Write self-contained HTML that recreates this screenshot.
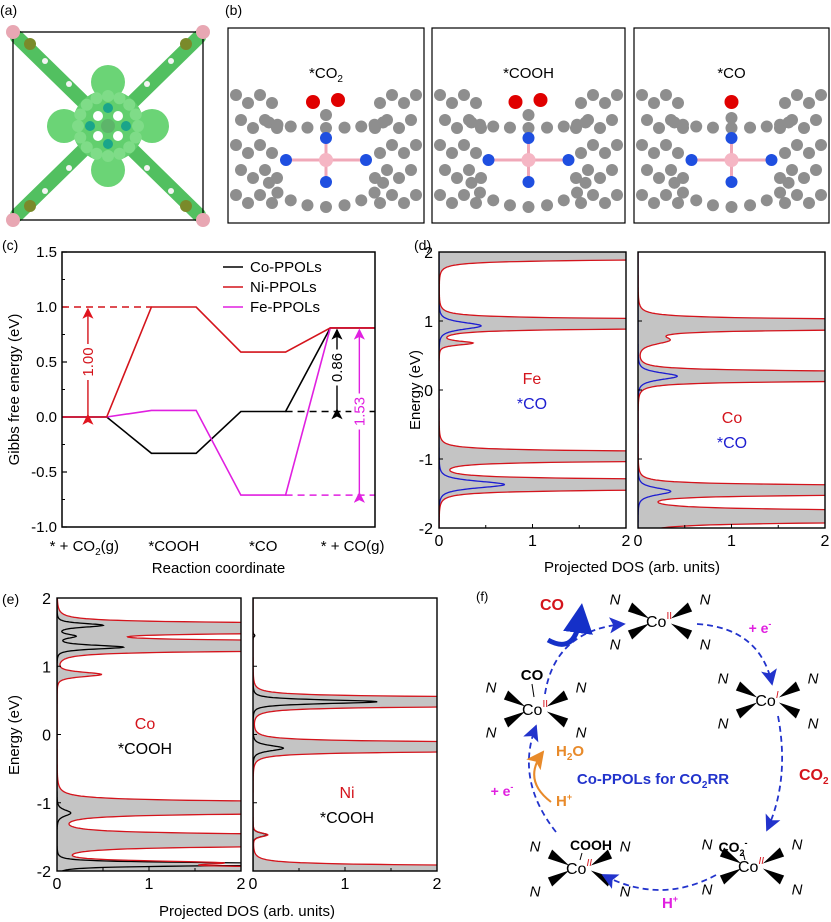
<!DOCTYPE html>
<html><head><meta charset="utf-8"><style>
html,body{margin:0;padding:0;background:#fff;}
svg{display:block;font-family:"Liberation Sans",Arial,sans-serif;}
</style></head><body>
<svg id="fig" width="831" height="922" viewBox="0 0 831 922" xmlns="http://www.w3.org/2000/svg">
<defs>
<marker id="arR" markerWidth="8" markerHeight="8" refX="7" refY="4" orient="auto"><path d="M0,0 L8,4 L0,8 L2,4z" fill="#e0141e"/></marker>
<marker id="arK" markerWidth="8" markerHeight="8" refX="7" refY="4" orient="auto"><path d="M0,0 L8,4 L0,8 L2,4z" fill="#000"/></marker>
<marker id="arM" markerWidth="8" markerHeight="8" refX="7" refY="4" orient="auto"><path d="M0,0 L8,4 L0,8 L2,4z" fill="#e020e0"/></marker>
<marker id="arB" markerWidth="9" markerHeight="9" refX="8" refY="4.5" orient="auto"><path d="M0,0 L9,4.5 L0,9 L2,4.5z" fill="#2233cc"/></marker>
<marker id="arO" markerWidth="9" markerHeight="9" refX="8" refY="4.5" orient="auto"><path d="M0,0 L9,4.5 L0,9 L2,4.5z" fill="#e88a2a"/></marker>
<marker id="arBig" markerWidth="6" markerHeight="6" refX="3" refY="3" orient="auto"><path d="M0,0 L6,3 L0,6z" fill="#1530c8"/></marker>
</defs>
<g id="root"></g>
</svg>
<script>
// ===== Panel (c) data =====
const stepLabels = ["* + CO\u2082(g)", "*COOH", "*CO", "* + CO(g)"];
const coValues = [0, -0.33, 0.05, 0.81];
const niValues = [0, 1.00, 0.59, 0.81];
const feValues = [0, 0.06, -0.71, 0.81];
const barrierLabels = ["1.00", "0.86", "1.53"];
const cTicks = [1.5, 1.0, 0.5, 0.0, -0.5, -1.0];
const cTickLabels = ["1.5", "1.0", "0.5", "0.0", "-0.5", "-1.0"];
const seriesNames = ["Co-PPOLs", "Ni-PPOLs", "Fe-PPOLs"];

// ===== DOS data (peak centers eV, heights, widths) =====
const dosTicks = [2, 1, 0, -1, -2];
const dosXTicks = [0, 1, 2];
const feRedE = [1.96, 0.96, 0.68, -0.96, -1.37];
const feRedH = [150, 150, 0.35, 150, 150];
const feRedW = [0.028, 0.028, 0.05, 0.028, 0.03];
const feBlueE = [0.93, -1.37];
const feBlueH = [0.45, 0.7];
const feBlueW = [0.09, 0.09];
const coCoRedE = [0.95, 0.72, 0.2, -1.45, -1.83];
const coCoRedH = [150, 0.3, 150, 150, 150];
const coCoRedW = [0.03, 0.1, 0.028, 0.028, 0.035];
const coCoBlueE = [0.2, -1.47];
const coCoBlueH = [0.42, 0.35];
const coCoBlueW = [0.09, 0.09];
const coOHRedE = [1.56, 1.3, 0.88, -1.07, -1.55, -1.88, -2.02];
const coOHRedH = [150, 150, 0.48, 150, 150, 1.5, 150];
const coOHRedW = [0.03, 0.03, 0.06, 0.035, 0.035, 0.05, 0.03];
const coOHBlackE = [1.6, 1.28, 1.44, -1.15, -1.9];
const coOHBlackH = [0.5, 0.72, 0.2, 0.15, 3];
const coOHBlackW = [0.05, 0.05, 0.05, 0.08, 0.04];
const niRedE = [0.48, -0.18, -1.47, -1.99];
const niRedH = [150, 150, 0.16, 150];
const niRedW = [0.028, 0.028, 0.05, 0.028];
const niBlackE = [0.48, -0.2, -1.47, 1.45];
const niBlackH = [1.35, 0.33, 0.15, 0.02];
const niBlackW = [0.05, 0.07, 0.05, 0.03];

const NS = "http://www.w3.org/2000/svg";
const root = document.getElementById("root");
function mk(tag, attrs, parent) {
  const e = document.createElementNS(NS, tag);
  for (const k in attrs) e.setAttribute(k, attrs[k]);
  (parent || root).appendChild(e);
  return e;
}
function txt(x, y, s, attrs, parent) {
  const t = mk("text", Object.assign({x: x, y: y}, attrs || {}), parent);
  t.textContent = s;
  return t;
}

// ===== Panel (a) =====
(function () {
  const g = mk("g", {});
  
  
  const lab = txt(0, 15, "(a)", {"font-size": 14});
  
  
  const cx = 108, cy = 126;
  [[17, 37], [199, 37], [17, 215], [199, 215]].forEach(p => {
    mk("line", {x1: p[0], y1: p[1], x2: cx, y2: cy, stroke: "#52c060", "stroke-width": 14, "stroke-linecap": "round"}, g);
  });
  mk("circle", {cx: cx, cy: cy, r: 36, fill: "#62cf6e"}, g);
  [[0, -44], [0, 44], [-44, 0], [44, 0]].forEach(d => {
    mk("circle", {cx: cx + d[0], cy: cy + d[1], r: 17, fill: "#6bd476"}, g);
  });
  for (let k = 0; k < 16; k++) {
    const a = k * Math.PI / 8;
    mk("circle", {cx: cx + 30 * Math.cos(a), cy: cy + 30 * Math.sin(a), r: 6, fill: "#7fdc88"}, g);
  }
  [[0, -18], [0, 18], [-18, 0], [18, 0]].forEach(d => {
    mk("circle", {cx: cx + d[0], cy: cy + d[1], r: 5, fill: "#1aa58a"}, g);
  });
  mk("circle", {cx: cx, cy: cy, r: 7, fill: "#5db56a"}, g);
  [[-10, -10], [10, -10], [-10, 10], [10, 10]].forEach(d => {
    mk("circle", {cx: cx + d[0], cy: cy + d[1], r: 5, fill: "#fff"}, g);
  });
  [[45, 61], [69, 84]].forEach(p => {
    [[1, 1], [-1, 1], [1, -1], [-1, -1]].forEach(s => {
      mk("circle", {cx: cx + s[0] * (cx - p[0]) , cy: cy + s[1] * (cy - p[1]) , r: 3, fill: "#f4f4f4"}, g);
    });
  });
  [[30, 44], [186, 44], [30, 206], [186, 206]].forEach(p => {
    mk("circle", {cx: p[0], cy: p[1], r: 6, fill: "#7a8a2a"}, g);
  });
  mk("rect", {x: 13, y: 32, width: 190, height: 188, fill: "none", stroke: "#000", "stroke-width": 1.3}, g);
  [[13, 32], [203, 32], [13, 220], [203, 220]].forEach(p => {
    mk("circle", {cx: p[0], cy: p[1], r: 7, fill: "#e8a7b3"}, g);
  });
})();

// ===== Panel (b) =====
(function () {
  const lab = txt(225, 15, "(b)", {"font-size": 14});
  
  
  const boxes = [[228, 196, "*CO2"], [432, 193, "*COOH"], [634, 195, "*CO"]];
  boxes.forEach((b, i) => {
    const g = mk("g", {});
    
    
    const x0 = b[0], w = b[1], y0 = 28, h = 195, cx = x0 + w / 2, cy = 160;
    for (let k = 0; k < 40; k++) {
      const col = k % 8, row = Math.floor(k / 8);
      const side = col < 4 ? 0 : 1;
      const xx = side === 0 ? x0 + 8 + col * 12 + (row % 2) * 5 : x0 + w - 8 - (col - 4) * 12 - (row % 2) * 5;
      const yy = 95 + row * 25 + (col % 2) * 8;
      mk("circle", {cx: xx, cy: yy, r: 6, fill: "#8e8e8e"}, g);
    }
    for (let k = 0; k < 9; k++) {
      const a = Math.PI * (0.1 + 0.8 * k / 8);
      mk("circle", {cx: cx - 60 * Math.cos(a), cy: cy + 12 + 35 * Math.sin(a), r: 6, fill: "#8e8e8e"}, g);
      mk("circle", {cx: cx - 60 * Math.cos(a), cy: cy - 40 + 8 * Math.sin(a), r: 6, fill: "#8e8e8e"}, g);
    }
    mk("line", {x1: cx - 40, y1: cy, x2: cx + 40, y2: cy, stroke: "#f0a8b8", "stroke-width": 3}, g);
    mk("line", {x1: cx, y1: cy - 25, x2: cx, y2: cy + 25, stroke: "#f0a8b8", "stroke-width": 3}, g);
    [[-40, 0], [40, 0], [0, -22], [0, 22]].forEach(d => mk("circle", {cx: cx + d[0], cy: cy + d[1], r: 6, fill: "#1f4fe0"}, g));
    mk("circle", {cx: cx, cy: cy, r: 7, fill: "#f5b6c4"}, g);
    if (i < 2) {
      mk("circle", {cx: cx - 13, cy: cy - 58, r: 7, fill: "#e00000"}, g);
      mk("circle", {cx: cx + 12, cy: cy - 60, r: 7, fill: "#e00000"}, g);
      mk("circle", {cx: cx, cy: cy - 45, r: 6, fill: "#8e8e8e"}, g);
    } else {
      mk("circle", {cx: cx, cy: cy - 58, r: 7, fill: "#e00000"}, g);
      mk("circle", {cx: cx, cy: cy - 42, r: 6, fill: "#8e8e8e"}, g);
    }
    mk("rect", {x: x0, y: y0, width: w, height: h, fill: "none", stroke: "#000", "stroke-width": 1.2}, g);
    const t = txt(cx, 78, "", {"font-size": 15, "text-anchor": "middle"}, g);
    if (b[2] === "*CO2") {
      t.textContent = "*CO";
      const s = mk("tspan", {"font-size": 10, dy: 4}, t); s.textContent = "2";
    } else t.textContent = b[2];
    
    
  });
})();

// ===== Panel (c) =====
(function () {
  const L = 62, R = 375, T = 252, B = 527;
  const xs = v => L + v * (R - L) / 7;
  const ys = v => T + (1.5 - v) * (B - T) / 2.5;
  const g = mk("g", {});
  
  
  const lab = txt(2, 250, "(c)", {"font-size": 14});
  
  
  cTicks.forEach((v, i) => {
    mk("line", {x1: L, y1: ys(v), x2: L + 5, y2: ys(v), stroke: "#000", "stroke-width": 1.2}, g);
    const t = txt(L - 5, ys(v) + 5, cTickLabels[i], {"font-size": 15, "text-anchor": "end"}, g);
    
    
  });
  for (let v = -0.75; v < 1.5; v += 0.5) mk("line", {x1: L, y1: ys(v), x2: L + 3, y2: ys(v), stroke: "#000"}, g);
  const yt = txt(0, 0, "Gibbs free energy (eV)", {"font-size": 15, "text-anchor": "middle", transform: "translate(19," + ((T + B) / 2) + ") rotate(-90)"}, g);
  
  
  stepLabels.forEach((s, i) => {
    const t = txt(xs(2 * i + 0.5), 551, "", {"font-size": 15, "text-anchor": "middle"}, g);
    if (i === 0) {
      t.textContent = "* + CO";
      const sb = mk("tspan", {"font-size": 10, dy: 4}, t); sb.textContent = "2";
      const r = mk("tspan", {dy: -4}, t); r.textContent = "(g)";
    } else t.textContent = s;
    
    
  });
  const xt = txt((L + R) / 2, 573, "Reaction coordinate", {"font-size": 15, "text-anchor": "middle"}, g);
  
  
  function draw(vals, color, name) {
    let d = "";
    vals.forEach((v, i) => {
      d += (i === 0 ? "M" : "L") + xs(2 * i) + "," + ys(v) + " L" + xs(2 * i + 1) + "," + ys(v) + " ";
    });
    const p = mk("path", {d: d, fill: "none", stroke: color, "stroke-width": 1.6}, g);
    
    
  }
  draw(coValues, "#000", "series-co-ppols");
  draw(feValues, "#e020e0", "series-fe-ppols");
  draw(niValues, "#d4141c", "series-ni-ppols");
  const maxNi = Math.max(...niValues);
  mk("line", {x1: xs(0), y1: ys(maxNi), x2: xs(2), y2: ys(maxNi), stroke: "#d4141c", "stroke-width": 1.5, "stroke-dasharray": "7,5"}, g);
  mk("line", {x1: xs(0.58), y1: ys(niValues[0]) - 2, x2: xs(0.58), y2: ys(maxNi) + 2, stroke: "#d4141c", "stroke-width": 1.4, "marker-end": "url(#arR)", "marker-start": "url(#arR)"}, g);
  mk("line", {x1: xs(5), y1: ys(coValues[2]), x2: xs(7), y2: ys(coValues[2]), stroke: "#000", "stroke-width": 1.5, "stroke-dasharray": "7,5"}, g);
  mk("line", {x1: xs(6.15), y1: ys(coValues[2]) - 2, x2: xs(6.15), y2: ys(coValues[3]) + 2, stroke: "#000", "stroke-width": 1.4, "marker-end": "url(#arK)", "marker-start": "url(#arK)"}, g);
  mk("line", {x1: xs(5), y1: ys(feValues[2]), x2: xs(7), y2: ys(feValues[2]), stroke: "#e020e0", "stroke-width": 1.5, "stroke-dasharray": "7,5"}, g);
  mk("line", {x1: xs(6.65), y1: ys(feValues[2]) - 2, x2: xs(6.65), y2: ys(feValues[3]) + 2, stroke: "#e020e0", "stroke-width": 1.4, "marker-end": "url(#arM)", "marker-start": "url(#arM)"}, g);
  function vlab(x, y, s, c, name) {
    mk("rect", {x: x - 8, y: y - 18, width: 16, height: 36, fill: "#fff"}, g);
    const t = txt(0, 0, s, {"font-size": 15, fill: c, "text-anchor": "middle", transform: "translate(" + (x + 5) + "," + y + ") rotate(-90)"}, g);
    
    
  }
  vlab(xs(0.58), ys(0.5), barrierLabels[0], "#d4141c", "ni-barrier-label");
  vlab(xs(6.15), ys(0.45), barrierLabels[1], "#000", "co-barrier-label");
  vlab(xs(6.65), ys(0.05), barrierLabels[2], "#e020e0", "fe-barrier-label");
  const cols = ["#000", "#d4141c", "#e020e0"];
  seriesNames.forEach((n, i) => {
    const y = 267 + i * 20;
    mk("line", {x1: 223, y1: y, x2: 243, y2: y, stroke: cols[i], "stroke-width": 1.6}, g);
    const t = txt(250, y + 5, n, {"font-size": 15}, g);
    
    
  });
  mk("rect", {x: L, y: T, width: R - L, height: B - T, fill: "none", stroke: "#000", "stroke-width": 1.5}, g);
})();

// ===== DOS panels =====
function dosVal(E, es, hs, ws) {
  let s = 0;
  for (let i = 0; i < es.length; i++) {
    const q = 1 + (E - es[i]) * (E - es[i]) / (ws[i] * ws[i]);
    s += hs[i] / (q * q);
  }
  return s;
}
let clipN = 0;
function dosPanel(L, R, T, B, fill, lines, name, showYLabels) {
  const g = mk("g", {});
  
  
  const xs = v => L + v * (R - L) / 2;
  const ys = v => T + (2 - v) * (B - T) / 4;
  const id = "clip" + (clipN++);
  const cp = mk("clipPath", {id: id}, g);
  mk("rect", {x: L, y: T, width: R - L, height: B - T}, cp);
  const cg = mk("g", {"clip-path": "url(#" + id + ")"}, g);
  function pathFor(sp, closed) {
    let d = closed ? "M" + xs(0) + "," + ys(2.05) + " " : "";
    for (let k = 0; k <= 1000; k++) {
      const E = 2.05 - k * 4.1 / 1000;
      const v = Math.min(dosVal(E, sp[0], sp[1], sp[2]), 2.2);
      d += ((!closed && k === 0) ? "M" : "L") + xs(v).toFixed(1) + "," + ys(E).toFixed(1) + " ";
    }
    if (closed) d += "L" + xs(0) + "," + ys(-2.05) + " Z";
    return d;
  }
  mk("path", {d: pathFor(fill, true), fill: "#c4c4c4", stroke: "none"}, cg);
  lines.forEach(l => {
    const p = mk("path", {d: pathFor(l.sp, false), fill: "none", stroke: l.c, "stroke-width": 1.3}, cg);
    
    
  });
  mk("rect", {x: L, y: T, width: R - L, height: B - T, fill: "none", stroke: "#000", "stroke-width": 1.4}, g);
  dosTicks.forEach(v => {
    mk("line", {x1: L, y1: ys(v), x2: L + 4, y2: ys(v), stroke: "#000"}, g);
    if (showYLabels) {
      const t = txt(L - 6, ys(v) + 6, String(v), {"font-size": 16, "text-anchor": "end"}, g);
      
      
    }
  });
  dosXTicks.forEach(v => {
    mk("line", {x1: xs(v), y1: B, x2: xs(v), y2: B - 4, stroke: "#000"}, g);
    const t = txt(xs(v), B + 18, String(v), {"font-size": 16, "text-anchor": "middle"}, g);
    
    
  });
  [0.5, 1.5].forEach(v => mk("line", {x1: xs(v), y1: B, x2: xs(v), y2: B - 3, stroke: "#000"}, g));
  return g;
}
function label2(x, y, a, b, ca, cb, name) {
  const t1 = txt(x, y, a, {"font-size": 16, fill: ca, "text-anchor": "middle"});
  
  
  const t2 = txt(x, y + 25, b, {"font-size": 16, fill: cb, "text-anchor": "middle"});
  
  
}
{
  const l = txt(414, 250, "(d)", {"font-size": 14});
  
  
  const fe = [feRedE, feRedH, feRedW], feb = [feBlueE, feBlueH, feBlueW];
  dosPanel(439, 626, 252, 528, fe, [{sp: feb, c: "#1d1dd0", n: "fe-co-blue-dos"}, {sp: fe, c: "#d4141c", n: "fe-red-dos"}], "dos-fe-co", true);
  const co = [coCoRedE, coCoRedH, coCoRedW], cob = [coCoBlueE, coCoBlueH, coCoBlueW];
  dosPanel(638, 825, 252, 528, co, [{sp: cob, c: "#1d1dd0", n: "co-co-blue-dos"}, {sp: co, c: "#d4141c", n: "co-red-dos"}], "dos-co-co", false);
  label2(532, 384, "Fe", "*CO", "#d4141c", "#1d1dd0", "fe-co-label");
  label2(732, 423, "Co", "*CO", "#d4141c", "#1d1dd0", "co-co-label");
  const yt = txt(0, 0, "Energy (eV)", {"font-size": 15, "text-anchor": "middle", transform: "translate(420,390) rotate(-90)"});
  
  
  const xt = txt(632, 572, "Projected DOS (arb. units)", {"font-size": 15, "text-anchor": "middle"});
  
  
}
{
  const l = txt(2, 604, "(e)", {"font-size": 14});
  
  
  const co = [coOHRedE, coOHRedH, coOHRedW], cok = [coOHBlackE, coOHBlackH, coOHBlackW];
  dosPanel(57, 241, 598, 871, co, [{sp: cok, c: "#000", n: "co-cooh-black-dos"}, {sp: co, c: "#d4141c", n: "co-cooh-red-dos"}], "dos-co-cooh", true);
  const ni = [niRedE, niRedH, niRedW], nik = [niBlackE, niBlackH, niBlackW];
  dosPanel(253, 437, 598, 871, ni, [{sp: nik, c: "#000", n: "ni-cooh-black-dos"}, {sp: ni, c: "#d4141c", n: "ni-cooh-red-dos"}], "dos-ni-cooh", false);
  label2(145, 729, "Co", "*COOH", "#d4141c", "#000", "co-cooh-label");
  label2(347, 798, "Ni", "*COOH", "#d4141c", "#000", "ni-cooh-label");
  const yt = txt(0, 0, "Energy (eV)", {"font-size": 15, "text-anchor": "middle", transform: "translate(19,735) rotate(-90)"});
  
  
  const xt = txt(247, 916, "Projected DOS (arb. units)", {"font-size": 15, "text-anchor": "middle"});
  
  
}

// ===== Panel (f) =====
(function () {
  const g = mk("g", {});
  
  
  const l = txt(476, 601, "(f)", {"font-size": 13});
  
  
  function wedge(cx, cy, dx, dy) {
    const len = Math.hypot(dx, dy), ux = dx / len, uy = dy / len;
    const sx = cx + ux * 12, sy = cy + uy * 6;
    const ex = cx + dx, ey = cy + dy;
    mk("polygon", {points: sx + "," + sy + " " + (ex - uy * 5) + "," + (ey + ux * 5) + " " + (ex + uy * 5) + "," + (ey - ux * 5), fill: "#000"}, g);
  }
  function complex(cx, cy, ox, italic, name) {
    const dirs = [[-30, -14], [30, -14], [-30, 14], [30, 14]];
    dirs.forEach(d => wedge(cx, cy, d[0], d[1]));
    const t = txt(cx - 1, cy + 6, "Co", {"font-size": 16, "text-anchor": "middle"}, g);
    const s = mk("tspan", {"font-size": 10, dy: -8, fill: "#d4141c", "font-style": italic ? "italic" : "normal"}, t);
    s.textContent = ox;
    
    
    dirs.forEach(d => {
      txt(cx + d[0] * 1.5, cy + d[1] * 1.6 + 6, "N", {"font-size": 15, "text-anchor": "middle", "font-style": "italic"}, g);
    });
  }
  complex(660, 621, "II", false, "co-ii-complex");
  complex(768, 700, "I", true, "co-i-complex");
  complex(752, 866, "II", true, "co-ii-co2-complex");
  complex(580, 868, "II", true, "co-ii-cooh-complex");
  complex(536, 709, "II", false, "co-ii-co-complex");
  txt(532, 680, "CO", {"font-size": 15, "font-weight": "bold", "text-anchor": "middle"}, g);
  mk("line", {x1: 532, y1: 684, x2: 534, y2: 697, stroke: "#000"}, g);
  txt(591, 850, "COOH", {"font-size": 14, "font-weight": "bold", "text-anchor": "middle"}, g);
  mk("line", {x1: 582, y1: 853, x2: 580, y2: 860, stroke: "#000"}, g);
  const c2 = txt(733, 852, "CO", {"font-size": 14, "font-weight": "bold", "text-anchor": "middle"}, g);
  const c2s = mk("tspan", {"font-size": 9, dy: 4}, c2); c2s.textContent = "2";
  const c2m = mk("tspan", {"font-size": 9, dy: -10}, c2); c2m.textContent = "-";
  mk("line", {x1: 743, y1: 853, x2: 745, y2: 860, stroke: "#000"}, g);
  const arcs = [
    "M545,694 Q555,630 624,624",
    "M697,624 Q760,628 772,684",
    "M778,716 Q790,780 767,830",
    "M716,875 Q660,905 603,875",
    "M556,832 Q515,780 536,726"
  ];
  arcs.forEach((d, i) => {
    const p = mk("path", {d: d, fill: "none", stroke: "#2233cc", "stroke-width": 1.8, "stroke-dasharray": "6,4", "marker-end": "url(#arB)"}, g);
    
    
  });
  mk("path", {d: "M548,640 Q575,655 580,618", fill: "none", stroke: "#1530c8", "stroke-width": 5, "marker-end": "url(#arBig)"}, g);
  txt(552, 610, "CO", {"font-size": 16, "font-weight": "bold", fill: "#d4141c", "text-anchor": "middle"}, g);
  const e1 = txt(760, 633, "+ e", {"font-size": 14, "font-weight": "bold", fill: "#e020e0", "text-anchor": "middle"}, g);
  const e1s = mk("tspan", {"font-size": 9, dy: -6}, e1); e1s.textContent = "-";
  const co2 = txt(799, 780, "CO", {"font-size": 16, "font-weight": "bold", fill: "#d4141c"}, g);
  const co2s = mk("tspan", {"font-size": 10, dy: 4}, co2); co2s.textContent = "2";
  const hp = txt(670, 908, "H", {"font-size": 15, "font-weight": "bold", fill: "#e020e0", "text-anchor": "middle"}, g);
  const hps = mk("tspan", {"font-size": 9, dy: -6}, hp); hps.textContent = "+";
  const e2 = txt(502, 796, "+ e", {"font-size": 14, "font-weight": "bold", fill: "#e020e0", "text-anchor": "middle"}, g);
  const e2s = mk("tspan", {"font-size": 9, dy: -6}, e2); e2s.textContent = "-";
  const h2o = txt(556, 756, "H", {"font-size": 15, "font-weight": "bold", fill: "#e88a2a"}, g);
  const h2os = mk("tspan", {"font-size": 10, dy: 4}, h2o); h2os.textContent = "2";
  const h2oo = mk("tspan", {dy: -4}, h2o); h2oo.textContent = "O";
  const hp2 = txt(556, 806, "H", {"font-size": 15, "font-weight": "bold", fill: "#e88a2a"}, g);
  const hp2s = mk("tspan", {"font-size": 9, dy: -6}, hp2); hp2s.textContent = "+";
  mk("path", {d: "M551,802 Q522,780 543,752", fill: "none", stroke: "#e88a2a", "stroke-width": 2, "marker-end": "url(#arO)"}, g);
  const ct = txt(653, 784, "Co-PPOLs for CO", {"font-size": 15, "font-weight": "bold", fill: "#2233cc", "text-anchor": "middle"}, g);
  const cts = mk("tspan", {"font-size": 10, dy: 4}, ct); cts.textContent = "2";
  const ctr = mk("tspan", {dy: -4}, ct); ctr.textContent = "RR";
  
  
})();
</script>
</body></html>
